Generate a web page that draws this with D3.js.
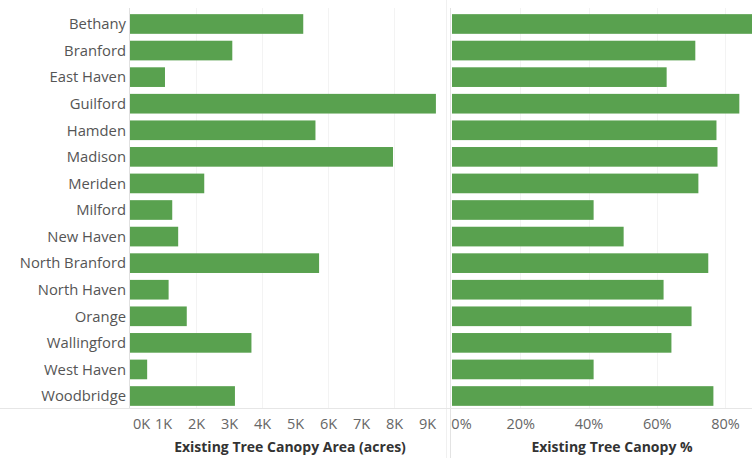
<!DOCTYPE html>
<html><head><meta charset="utf-8">
<script src="https://cdn.jsdelivr.net/npm/d3@7"></script>
<style>body{margin:0;background:#fff}svg{display:block}text{font-family:"Open Sans",sans-serif}</style>
</head><body><svg id="c" width="752" height="458"></svg>
<script>
const towns = ["Bethany","Branford","East Haven","Guilford","Hamden","Madison","Meriden","Milford","New Haven","North Branford","North Haven","Orange","Wallingford","West Haven","Woodbridge"];
const canopyArea = [5250,3100,1060,9270,5620,7970,2250,1280,1460,5730,1170,1720,3680,520,3180];
const canopyPct = [0.90,0.713,0.629,0.842,0.775,0.778,0.722,0.415,0.503,0.751,0.620,0.702,0.643,0.415,0.766];
const areaTicks = [0,1000,2000,3000,4000,5000,6000,7000,8000,9000];
const areaTickLabels = ["0K","1K","2K","3K","4K","5K","6K","7K","8K","9K"];
const pctTicks = [0,0.2,0.4,0.6,0.8];
const pctTickLabels = ["0%","20%","40%","60%","80%"];

const svg = d3.select("#c");
const green = "#59a14f";
const plotTop = 10.7, plotBottom = 409.3;
const y = d3.scaleBand().domain(towns).range([plotTop, plotBottom]).paddingInner(0.26).paddingOuter(0.13);
const xA = d3.scaleLinear().domain([0, 9000]).range([130, 427]);
const xP = d3.scaleLinear().domain([0, 0.8]).range([452, 725]);

// gridlines
const grid = svg.append("g").attr("stroke", "#f3f3f3").attr("stroke-width", 1);
[2000,4000,6000,8000].forEach(v => grid.append("line").attr("x1", Math.round(xA(v))+0.5).attr("x2", Math.round(xA(v))+0.5).attr("y1", 8).attr("y2", 408));
[0.2,0.4,0.6,0.8].forEach(v => grid.append("line").attr("x1", Math.round(xP(v))+0.5).attr("x2", Math.round(xP(v))+0.5).attr("y1", 8).attr("y2", 408));

// panel separators / zero lines
svg.append("line").attr("x1",129.5).attr("x2",129.5).attr("y1",8).attr("y2",408).attr("stroke","#e0e0e0");
svg.append("line").attr("x1",446.5).attr("x2",446.5).attr("y1",0).attr("y2",458).attr("stroke","#f0f0f0");
svg.append("line").attr("x1",450.5).attr("x2",450.5).attr("y1",8).attr("y2",458).attr("stroke","#e3e3e3");
// bottom axis line
svg.append("line").attr("x1",0).attr("x2",752).attr("y1",408.5).attr("y2",408.5).attr("stroke","#e6e6e6");

// bars
svg.append("g").selectAll("rect").data(towns).join("rect")
  .attr("x", xA(0)).attr("y", d => y(d)).attr("height", y.bandwidth())
  .attr("width", (d,i) => xA(canopyArea[i]) - xA(0)).attr("fill", green);
svg.append("g").selectAll("rect").data(towns).join("rect")
  .attr("x", xP(0)).attr("y", d => y(d)).attr("height", y.bandwidth())
  .attr("width", (d,i) => xP(canopyPct[i]) - xP(0)).attr("fill", green);

// row labels
svg.append("g").selectAll("text").data(towns).join("text")
  .attr("x", 126).attr("y", d => y(d) + y.bandwidth()/2).attr("dy", "0.36em")
  .attr("text-anchor", "end").attr("font-size", 14.8).attr("fill", "#555").text(d => d);

// x axes
const axA = d3.axisBottom(xA).tickValues(areaTicks).tickFormat((d,i) => areaTickLabels[i]).tickSize(0).tickPadding(0);
const gA = svg.append("g").attr("transform", "translate(0,416)").call(axA);
gA.select(".domain").remove();
gA.selectAll("text").attr("font-size", 14.5).attr("fill", "#666").attr("font-family", "Open Sans, sans-serif").attr("dy", "0.9em")
  .attr("dx", (d) => d === 0 ? 11 : 0);
const axP = d3.axisBottom(xP).tickValues(pctTicks).tickFormat((d,i) => pctTickLabels[i]).tickSize(0).tickPadding(0);
const gP = svg.append("g").attr("transform", "translate(0,416)").call(axP);
gP.select(".domain").remove();
gP.selectAll("text").attr("font-size", 14.5).attr("fill", "#666").attr("font-family", "Open Sans, sans-serif").attr("dy", "0.9em")
  .attr("dx", (d) => d === 0 ? 9 : 0);

// axis titles
svg.append("text").attr("x", 290).attr("y", 452).attr("text-anchor", "middle").attr("font-size", 14).attr("font-weight", "bold").attr("fill", "#333").text("Existing Tree Canopy Area (acres)");
svg.append("text").attr("x", 612).attr("y", 452).attr("text-anchor", "middle").attr("font-size", 14).attr("font-weight", "bold").attr("fill", "#333").text("Existing Tree Canopy %");
</script></body></html>
